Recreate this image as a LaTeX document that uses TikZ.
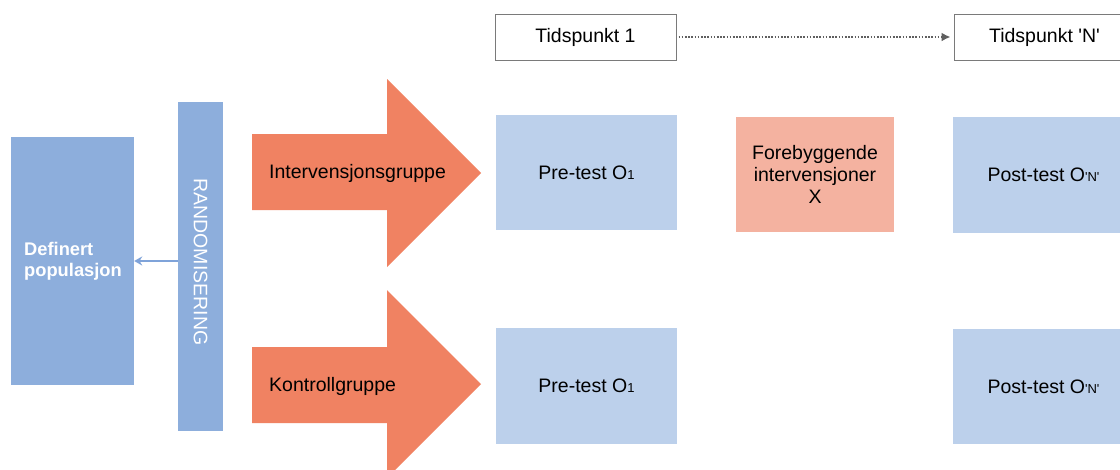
\documentclass[tikz,border=0pt]{standalone}
\usepackage{fontspec}
\setmainfont{Liberation Sans}[Ligatures=TeXOff]
\usetikzlibrary{arrows.meta}
\definecolor{popblue}{HTML}{8DAEDC}
\definecolor{lightblue}{HTML}{BCD0EB}
\definecolor{grouporange}{HTML}{F08262}
\definecolor{salmon}{HTML}{F4B2A0}
\definecolor{linkblue}{HTML}{7FA3D9}
\definecolor{dotgray}{HTML}{5F5F5F}
\definecolor{framegray}{HTML}{7A7A7A}
\newcommand{\smallsub}[1]{{\fontsize{13}{13}\selectfont #1}}
\tikzset{
  txt/.style={font=\fontsize{19.5}{22}\selectfont, text=black, inner sep=0pt},
  timebox/.style={draw=framegray, line width=1pt, fill=white, minimum width=181pt, minimum height=46pt, inner sep=0pt, txt},
  testbox/.style={fill=lightblue, minimum width=181pt, minimum height=115pt, inner sep=0pt, txt},
  interbox/.style={fill=salmon, minimum width=158pt, minimum height=115pt, inner sep=0pt, txt, align=center},
  popbox/.style={fill=popblue, inner sep=0pt},
  grouparrow/.style={fill=grouporange},
}
\begin{document}
\begin{tikzpicture}[x=1pt,y=-1pt]
\clip (0,0) rectangle (1120,469);
\fill[white] (0,0) rectangle (1120,469);

% time points
\node[timebox] (t1) at (585.5,37) {Tidspunkt 1};
\node[timebox] (tn) at (1044.5,37) {Tidspunkt 'N'};
\draw[dotgray, line width=1.8pt, dash pattern=on 1.6pt off 1.6pt, -{Latex[length=9pt,width=9pt]}] ([xshift=2pt]t1.east) -- ([xshift=-3pt]tn.west);

% population and randomisation
\node[popbox, minimum width=123pt, minimum height=248pt] (pop) at (72.5,261) {};
\node[font=\bfseries\fontsize{18.3}{21}\selectfont, text=white, align=left, anchor=west, inner sep=0pt] (poplabel) at (24,261) {Definert\\populasjon};
\node[popbox, minimum width=45pt, minimum height=329pt] (rand) at (200.5,266.5) {};
\node[txt, text=white, rotate=-90] (randlabel) at (200.5,262) {RANDOMISERING};
\draw[linkblue, line width=1.5pt, -{Stealth[length=8pt,width=9pt]}] (pop.east -| rand.west) -- (pop.east);

% group arrows
\fill[grouparrow] (252,134) -- (387,134) -- (387,79) -- (481,173) -- (387,267) -- (387,210) -- (252,210) -- cycle;
\node[txt, anchor=west] (intlabel) at (269,173) {Intervensjonsgruppe};
\fill[grouparrow] (252,347) -- (387,347) -- (387,290) -- (481,384) -- (387,478) -- (387,423) -- (252,423) -- cycle;
\node[txt, anchor=west] (ctrllabel) at (269,386) {Kontrollgruppe};

% tests and intervention
\node[testbox] (pre1) at (586.5,172.5) {Pre-test O\smallsub{1}};
\node[testbox, minimum height=116pt] (pre2) at (586.5,386) {Pre-test O\smallsub{1}};
\node[interbox] (inter) at (815,174) {Forebyggende\\intervensjoner\\X};
\node[testbox, minimum height=116pt] (post1) at (1043.5,175) {Post-test O\smallsub{'N'}};
\node[testbox] (post2) at (1043.5,386.5) {Post-test O\smallsub{'N'}};
\end{tikzpicture}
\end{document}
